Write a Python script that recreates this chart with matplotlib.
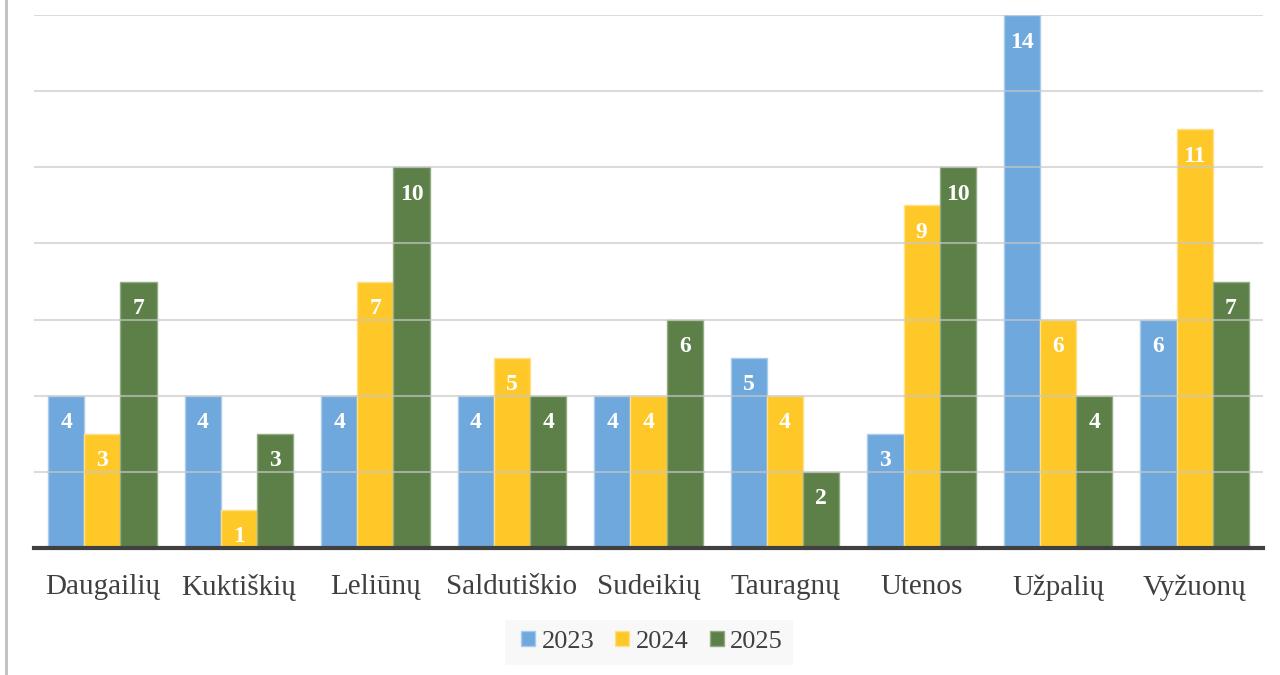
import matplotlib
matplotlib.use("Agg")
import matplotlib.pyplot as plt
import numpy as np
from matplotlib.lines import Line2D
from matplotlib.patches import Rectangle

categories = ["Daugailių", "Kuktiškių", "Leliūnų", "Saldutiškio", "Sudeikių",
              "Tauragnų", "Utenos", "Užpalių", "Vyžuonų"]
series_names = ["2023", "2024", "2025"]
v2023 = [4, 4, 4, 4, 4, 5, 3, 14, 6]
v2024 = [3, 1, 7, 5, 4, 4, 9, 6, 11]
v2025 = [7, 3, 10, 4, 6, 2, 10, 4, 7]
colors = ["#6fa8dc", "#ffc829", "#5d7f48"]
edges = ["#a9cbec", "#ffe08a", "#93ab84"]

plt.rcParams["font.family"] = ["Liberation Serif", "DejaVu Serif"]

fig = plt.figure(figsize=(12.8, 6.75), dpi=100)
ax = fig.add_axes([34/1280, 1 - 548/675, (1263-34)/1280, (548-15)/675])

x = np.arange(len(categories))
w = 0.265
for i, (vals, c, ec) in enumerate(zip([v2023, v2024, v2025], colors, edges)):
    xs = x + (i - 1) * w
    ax.bar(xs, vals, width=w, color=c, edgecolor=ec, linewidth=1.0,
           label=series_names[i], zorder=2)
    for xi, v in zip(xs, vals):
        ax.annotate(str(v), (xi, v), xytext=(0, -27), textcoords="offset pixels",
                    ha="center", va="center", color="white", fontsize=17,
                    fontweight="bold", zorder=4)

ax.set_xlim(-0.5, len(categories) - 0.5)
ax.set_ylim(0, 14)
ax.set_yticks(np.arange(0, 15, 2))
ax.set_yticklabels([])
ax.tick_params(axis="y", length=0)
ax.tick_params(axis="x", length=0, labelsize=21, labelcolor="#404040", pad=19)
ax.set_xticks(x)
ax.set_xticklabels(categories)
ax.grid(axis="y", color="#c8c8c8", linewidth=1.5, alpha=0.65, zorder=3)
ax.set_axisbelow(False)
for s in ["top", "right", "left"]:
    ax.spines[s].set_visible(False)
ax.spines["bottom"].set_color("#404040")
ax.spines["bottom"].set_linewidth(3)
ax.spines["bottom"].set_zorder(5)

# legend background box
fig.add_artist(Rectangle((505/1280, 1 - 665/675), 288/1280, 45/675,
                         transform=fig.transFigure, facecolor="#f8f8f8",
                         edgecolor="none", zorder=0))
leg = ax.legend(loc="center", bbox_to_anchor=(652/1280, 1 - 642/675),
                bbox_transform=fig.transFigure, ncol=3, frameon=False,
                fontsize=19, handlelength=0.53, handleheight=0.53,
                handletextpad=0.25, columnspacing=0.8, borderpad=0.2)
for t in leg.get_texts():
    t.set_color("#404040")

fig.add_artist(Line2D([6/1280, 6/1280], [0, 1], color="#bfbfbf", linewidth=2,
                      transform=fig.transFigure))

fig.savefig("out.png", dpi=100, facecolor="white")
